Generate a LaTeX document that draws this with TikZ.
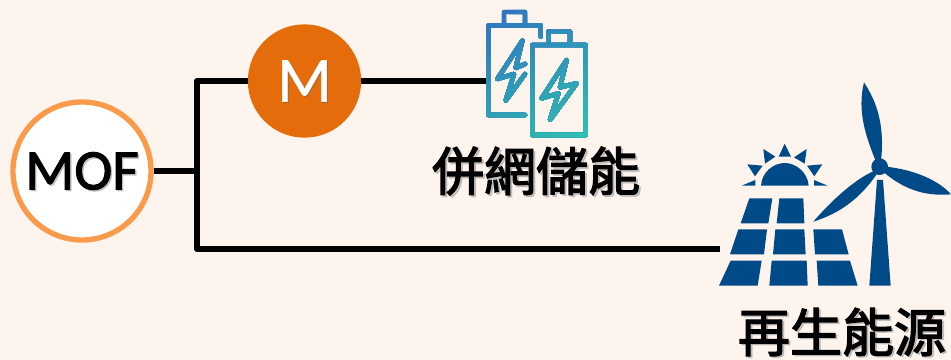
\documentclass[tikz,border=0pt]{standalone}
\usepackage{fontspec}
\setmainfont{Carlito}
\newfontfamily\cjk[FakeBold=2.6]{Noto Sans CJK TC}
\newfontfamily\latinmed[FakeBold=1.8]{Carlito}
\newfontfamily\latinM[FakeBold=0.8]{Carlito}
\definecolor{bgc}{HTML}{FEF4EE}
\definecolor{ringc}{HTML}{FA9A4B}
\definecolor{mfill}{HTML}{E46C0A}
\definecolor{navy}{HTML}{004A87}
\definecolor{battA}{HTML}{2F74C0}
\definecolor{battB}{HTML}{2FC0B0}
\tikzset{
  wire/.style={line width=4.4pt,line join=round,black},
  cjklabel/.style={font=\cjk\fontsize{39}{39}\selectfont,inner sep=0pt},
  shadowtext/.style={text=black!45,opacity=.4},
  iconstroke/.style={line width=3.3pt,line join=round,line cap=round},
  solar/.style={fill=navy,draw=none}
}
\begin{document}
\begin{tikzpicture}[x=.75pt,y=-.75pt]
\useasboundingbox (0,0) rectangle (951,360);
\fill[bgc] (0,0) rectangle (951,360);
\coordinate (j) at (197,171);
\coordinate (batt) at (486,81);
\coordinate (sol) at (720,249);
\node[circle,minimum size=85pt,inner sep=0pt,fill=mfill] (M) at (304.5,81) {};
\node[circle,minimum size=103.5pt,inner sep=0pt,fill=white,draw=ringc,line width=4pt] (MOF) at (82,171) {};
\draw[wire] (MOF.east) -- (j);
\draw[wire] (M.west) -| (j);
\draw[wire] (j) |- (sol);
\draw[wire] (M.east) -- (batt);
\node[text=black!60,opacity=.45,font=\latinM\fontsize{48}{48}\selectfont,inner sep=0pt] (Mshadow) at (305.5,82) {M};
\node[text=white,font=\latinM\fontsize{48}{48}\selectfont,inner sep=0pt] (Mtext) at (304.5,81) {M};
\node[shadowtext,font=\latinmed\fontsize{43}{43}\selectfont,inner sep=0pt] (MOFshadow) at (83.5,172.5) {MOF};
\node[font=\latinmed\fontsize{43}{43}\selectfont,inner sep=0pt] (MOFtext) at (82,171) {MOF};
\node[cjklabel,shadowtext] (gridshadow) at (538,173) {併網儲能};
\node[cjklabel] (grid) at (536,171) {併網儲能};
\node[cjklabel,shadowtext] (renewshadow) at (844,333.5) {再生能源};
\node[cjklabel] (renew) at (842,332) {再生能源};
% battery icon
\begin{scope}[shift={(470,0)},x=.25pt,y=-.25pt]
\foreach \i in {0,...,35}{
  \pgfmathsetmacro{\tt}{\i/35}
  \pgfmathsetmacro{\px}{60+235*\tt}
  \pgfmathsetmacro{\py}{30+407*\tt}
  \pgfmathsetmacro{\pc}{100*(1-\tt)}
  \begin{scope}
    \clip (\px-866,\py+500) -- (\px+866,\py-500) -- (\px+866+1000,\py-500+1732) -- (\px-866+1000,\py+500+1732) -- cycle;
    \draw[iconstroke,draw=battA!\pc!battB]
      (165,345) -- (55,345) -- (55,76) -- (212,76) -- (212,110)
      (102,74) -- (102,36) -- (165,36) -- (165,74)
      (187,135) rectangle (347,405)
      (235,132) -- (235,95) -- (300,95) -- (300,132)
      (157,122) -- (82,237) -- (132,222) -- (107,302) -- (165,222)
      (157,122) -- (137,204) -- (165,192)
      (290,180) -- (215,295) -- (265,280) -- (240,360) -- (320,250) -- (270,262) -- cycle;
  \end{scope}
}
\end{scope}
% solar panel and wind turbine
\begin{scope}[shift={(710,75)},x=.25pt,y=-.25pt]
\fill[solar] (118,370) -- (187,370) -- (175,445) -- (92,445) -- cycle;
\fill[solar] (208,370) -- (280,370) -- (283,445) -- (200,445) -- cycle;
\fill[solar] (85,463) -- (171,463) -- (162,538) -- (60,538) -- cycle;
\fill[solar] (196,463) -- (283,463) -- (287,538) -- (189,538) -- cycle;
\fill[solar] (310,463) -- (396,463) -- (416,538) -- (315,538) -- cycle;
\fill[solar] (62,557) -- (155,557) -- (143,632) -- (27,632) -- cycle;
\fill[solar] (185,557) -- (290,557) -- (293,632) -- (178,632) -- cycle;
\fill[solar] (320,557) -- (420,557) -- (443,632) -- (325,632) -- cycle;
\fill[solar] (153,332) .. controls (155,292) and (190,264) .. (224,264) .. controls (258,264) and (293,292) .. (296,332) -- cycle;
\fill[solar] (224,206) -- (243,245) -- (206,245) -- cycle;
\fill[solar] (160,222) -- (196,245) -- (165,266) -- cycle;
\fill[solar] (290,222) -- (252,247) -- (284,266) -- cycle;
\fill[solar] (112,268) -- (158,272) -- (135,304) -- cycle;
\fill[solar] (337,268) -- (291,272) -- (313,304) -- cycle;
\fill[solar] (136,315) -- (136,332) -- (95,332) -- cycle;
\fill[solar] (312,315) -- (312,332) -- (353,332) -- cycle;
\fill[solar] (501,315) -- (519,315) -- (542,632) -- (478,632) -- cycle;
\fill[solar] (509,275) circle[radius=25];
\fill[solar] (497,258) .. controls (470,190) and (440,110) .. (462,22) .. controls (500,80) and (525,150) .. (513,258) -- cycle;
\fill[solar] (528,275) .. controls (620,285) and (690,320) .. (723,358) .. controls (640,365) and (580,340) .. (525,295) -- cycle;
\fill[solar] (310,440) .. controls (370,370) and (440,310) .. (492,288) .. controls (500,290) and (500,295) .. (500,298) .. controls (450,370) and (390,415) .. (310,440) -- cycle;
\end{scope}
\end{tikzpicture}
\end{document}
